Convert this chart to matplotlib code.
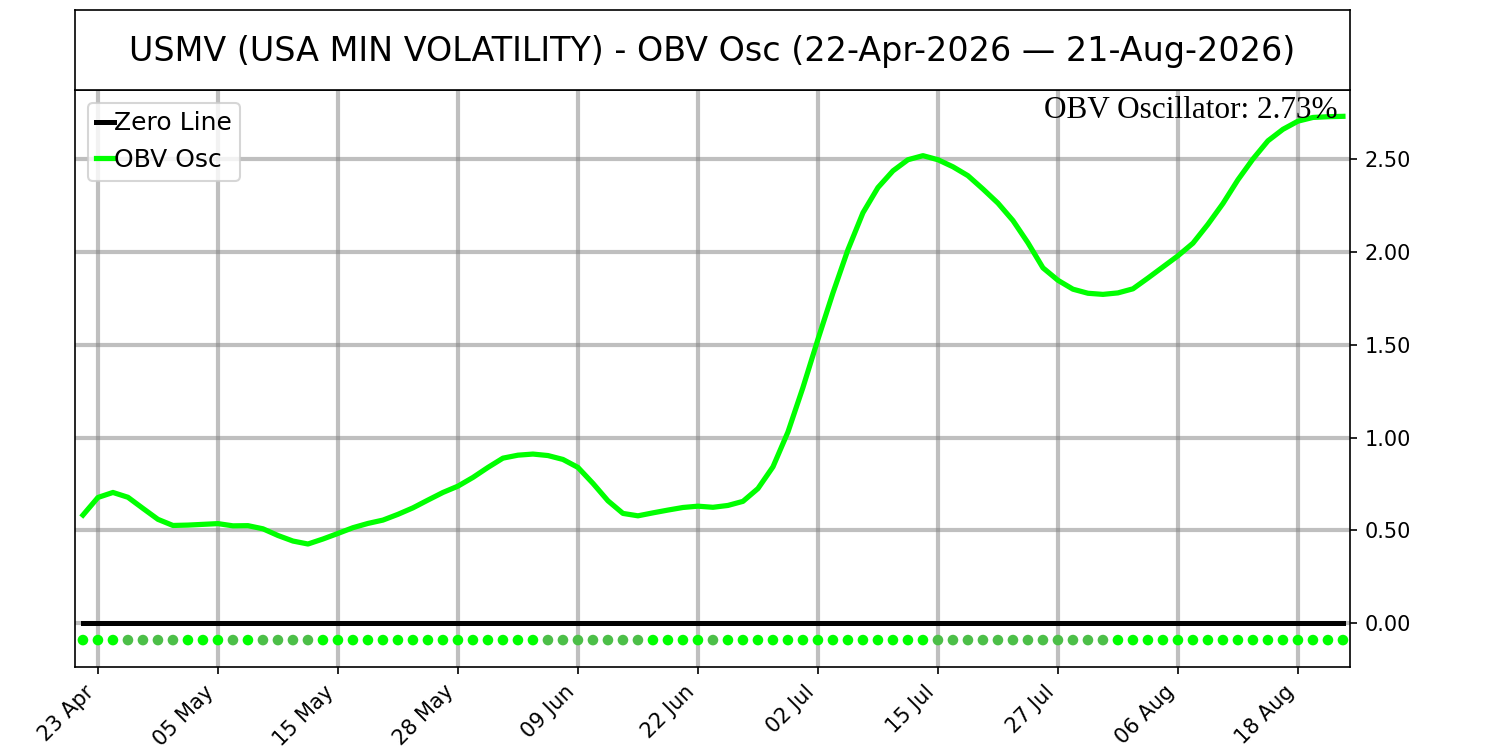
import matplotlib
matplotlib.use("Agg")
import matplotlib.pyplot as plt
import numpy as np
import pandas as pd

# ---- data ----
ticker = "USMV (USA MIN VOLATILITY)"
start_date = "2026-04-22"
end_date = "2026-08-21"
holidays = ["2026-05-25", "2026-06-19", "2026-07-03"]

obv_osc = [
    0.582, 0.677, 0.704, 0.678, 0.618, 0.559, 0.526, 0.528, 0.532, 0.536,
    0.524, 0.525, 0.508, 0.472, 0.442, 0.426, 0.453, 0.483, 0.514, 0.537,
    0.555, 0.586, 0.621, 0.663, 0.704, 0.738, 0.785, 0.839, 0.889, 0.905,
    0.911, 0.903, 0.882, 0.839, 0.753, 0.659, 0.591, 0.578, 0.594, 0.609,
    0.623, 0.630, 0.624, 0.634, 0.656, 0.725, 0.842, 1.030, 1.270, 1.530,
    1.780, 2.013, 2.212, 2.348, 2.438, 2.498, 2.520, 2.498, 2.460, 2.412,
    2.340, 2.264, 2.170, 2.050, 1.915, 1.848, 1.800, 1.778, 1.772, 1.780,
    1.802, 1.860, 1.920, 1.980, 2.048, 2.150, 2.262, 2.390, 2.502, 2.600,
    2.662, 2.706, 2.726, 2.730, 2.732,
]
signal_level = -0.092
y_ticks = [0.0, 0.5, 1.0, 1.5, 2.0, 2.5]

# ---- derived ----
dates = pd.bdate_range(start_date, end_date, freq="C", holidays=holidays)
vals = np.array(obv_osc)
x = np.arange(len(vals))
rising = np.concatenate([[True], np.diff(vals) >= 0])
dot_colors = np.where(rising, "#00ff00", "#4cbf48")

tick_idx = x[1::8]
tick_labels = [dates[i].strftime("%d %b") for i in tick_idx]

title = f"{ticker} - OBV Osc ({dates[0].strftime('%d-%b-%Y')} \u2014 {dates[-1].strftime('%d-%b-%Y')})"

fig = plt.figure(figsize=(10, 5), dpi=150)
ax = fig.add_axes([0.05, 0.1107, 0.85, 0.7693])
tax = fig.add_axes([0.05, 0.88, 0.85, 0.1067])
tax.set_xticks([])
tax.set_yticks([])
tax.text(0.5, 0.48, title, ha="center", va="center", fontsize=16, transform=tax.transAxes)

ax.grid(True, color="gray", alpha=0.5, linewidth=2)
ax.set_axisbelow(True)
ax.plot(x, np.zeros_like(vals), color="black", linewidth=2.4, label="Zero Line")
ax.plot(x, vals, color="#00ff00", linewidth=2.5, label="OBV Osc")
ax.scatter(x, np.full_like(vals, signal_level), c=dot_colors, s=26, zorder=3, linewidths=0)

ax.set_xlim(-0.53, len(vals) - 0.53)
ax.set_ylim(-0.237, 2.874)
ax.set_xticks(tick_idx)
ax.set_xticklabels(tick_labels, rotation=45, ha="right", fontsize=10)
ax.yaxis.tick_right()
ax.set_yticks(y_ticks)
ax.set_yticklabels([f"{v:.2f}" for v in y_ticks], fontsize=10)

ax.legend(loc="upper left", fontsize=12, handlelength=0.7, handletextpad=0.0,
          borderpad=0.35, labelspacing=0.5, borderaxespad=0.5)
ax.text(0.99, 0.99, f"OBV Oscillator: {vals[-1]:.2f}%", ha="right", va="top",
        transform=ax.transAxes, fontsize=15, family="Liberation Serif")

fig.savefig("out.png", dpi=150)
